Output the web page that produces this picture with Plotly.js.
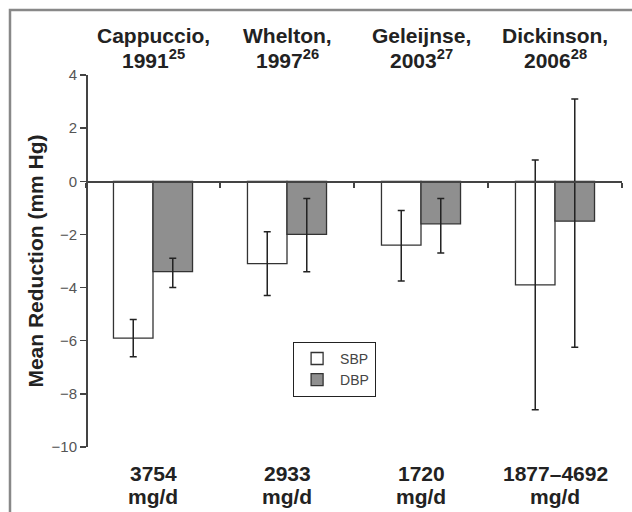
<!DOCTYPE html>
<html>
<head>
<meta charset="utf-8">
<script src="https://cdn.plot.ly/plotly-3.0.1.min.js"></script>
<style>html,body{margin:0;padding:0;background:#fff;}#chart{width:632px;height:512px;}</style>
</head>
<body>
<div id="chart"></div>
<script>
// ---- data ----
var categories = ["Cappuccio", "Whelton", "Geleijnse", "Dickinson"];
var studyNames = ["Cappuccio,", "Whelton,", "Geleijnse,", "Dickinson,"];
var studyYears = ["1991<sup>25</sup>", "1997<sup>26</sup>", "2003<sup>27</sup>", "2006<sup>28</sup>"];
var doseValues = ["3754", "2933", "1720", "1877–4692"];
var doseUnits = ["mg/d", "mg/d", "mg/d", "mg/d"];

var sbpMean = [-5.9, -3.1, -2.4, -3.9];
var sbpUpper = [-5.2, -1.9, -1.1, 0.8];
var sbpLower = [-6.6, -4.3, -3.75, -8.6];

var dbpMean = [-3.4, -2.0, -1.6, -1.5];
var dbpUpper = [-2.9, -0.65, -0.65, 3.1];
var dbpLower = [-4.0, -3.4, -2.7, -6.25];

var yTicks = [4, 2, 0, -2, -4, -6, -8, -10];

function plus(m, u) { return m.map(function (v, i) { return +(u[i] - v).toFixed(3); }); }
function minus(m, l) { return m.map(function (v, i) { return +(v - l[i]).toFixed(3); }); }

var errStyle = { color: "#222", thickness: 1.5, width: 3.5 };

var traces = [
  {
    type: "bar", name: "SBP", x: categories, y: sbpMean,
    marker: { color: "#ffffff", line: { color: "#333", width: 1.3 } },
    error_y: Object.assign({ type: "data", symmetric: false, array: plus(sbpMean, sbpUpper), arrayminus: minus(sbpMean, sbpLower) }, errStyle),
    hoverinfo: "skip"
  },
  {
    type: "bar", name: "DBP", x: categories, y: dbpMean,
    marker: { color: "#8f8f8f", line: { color: "#333", width: 1.3 } },
    error_y: Object.assign({ type: "data", symmetric: false, array: plus(dbpMean, dbpUpper), arrayminus: minus(dbpMean, dbpLower) }, errStyle),
    hoverinfo: "skip"
  }
];

var labelFont = { family: "Liberation Sans, Arial, sans-serif", size: 21, color: "#222" };
var annotations = [];
categories.forEach(function (c, i) {
  annotations.push({ xref: "x", yref: "paper", x: i, y: 1.105, text: "<b>" + studyNames[i] + "</b>", showarrow: false, xanchor: "center", yanchor: "middle", font: labelFont });
  annotations.push({ xref: "x", yref: "paper", x: i, y: 1.043, text: "<b>" + studyYears[i] + "</b>", showarrow: false, xanchor: "center", yanchor: "middle", font: labelFont });
  annotations.push({ xref: "x", yref: "paper", x: i, y: -0.072, text: "<b>" + doseValues[i] + "</b>", showarrow: false, xanchor: "center", yanchor: "middle", font: labelFont });
  annotations.push({ xref: "x", yref: "paper", x: i, y: -0.132, text: "<b>" + doseUnits[i] + "</b>", showarrow: false, xanchor: "center", yanchor: "middle", font: labelFont });
});

var layout = {
  width: 632, height: 512,
  margin: { l: 86, r: 10, t: 75, b: 65, pad: 0 },
  paper_bgcolor: "#fff", plot_bgcolor: "#fff",
  font: { family: "Liberation Sans, Arial, sans-serif", color: "#333" },
  barmode: "group", bargap: 0.41, bargroupgap: 0,
  showlegend: true,
  legend: {
    x: 0.386, y: 0.283, xanchor: "left", yanchor: "top",
    bgcolor: "#fff", bordercolor: "#222", borderwidth: 1.2,
    font: { family: "Liberation Sans, Arial, sans-serif", size: 14, color: "#444" },
    itemwidth: 36, entrywidth: 72,
    traceorder: "normal"
  },
  xaxis: {
    type: "category", range: [-0.5, 3.5], anchor: "free", position: 10 / 14,
    showline: true, linecolor: "#444", linewidth: 1.5,
    ticks: "outside", tickson: "boundaries", ticklen: 5, tickwidth: 1.5, tickcolor: "#444",
    showticklabels: false, showgrid: false, zeroline: false, fixedrange: true
  },
  yaxis: {
    range: [-10, 4], anchor: "free", position: 0,
    tickvals: yTicks, ticktext: yTicks.map(function (v) { return v < 0 ? "−" + Math.abs(v) : String(v); }),
    showline: true, linecolor: "#444", linewidth: 1.5,
    ticks: "outside", ticklen: 6, tickwidth: 1.5, tickcolor: "#444",
    tickfont: { family: "Liberation Sans, Arial, sans-serif", size: 15, color: "#555" },
    showgrid: false, zeroline: false, fixedrange: true,
    title: { text: "<b>Mean Reduction (mm Hg)</b>", standoff: 0, font: { family: "Liberation Sans, Arial, sans-serif", size: 21, color: "#222" } }
  },
  annotations: annotations,
  shapes: [
    { type: "rect", xref: "paper", yref: "paper", x0: -0.1418, x1: 1.2, y0: -0.5, y1: 1.1747, line: { color: "#888", width: 2.5 }, fillcolor: "rgba(0,0,0,0)", layer: "below" }
  ]
};

Plotly.newPlot("chart", traces, layout, { displayModeBar: false, staticPlot: true });
</script>
</body>
</html>
